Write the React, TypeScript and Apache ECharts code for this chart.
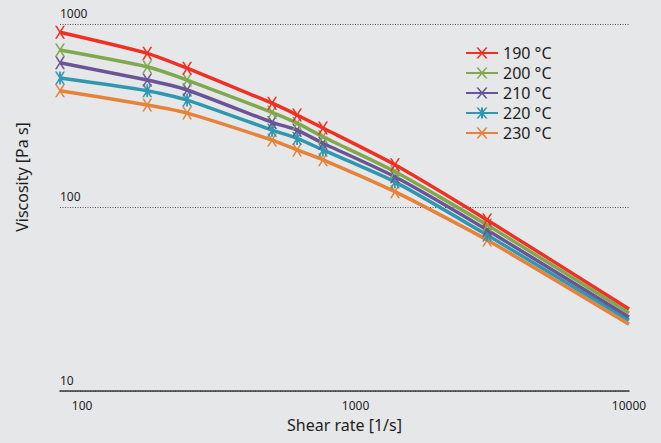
import React, { useEffect, useRef } from "react";
import * as echarts from "echarts";

const shearRates = [83, 173, 242, 495, 611, 760, 1393, 3028, 10000];
const seriesNames = ["190 °C", "200 °C", "210 °C", "220 °C", "230 °C"];
const visc190 = [901, 692, 574, 370, 319, 271, 171, 85.5, 28.0];
const visc200 = [722, 585, 495, 330, 288, 243, 157, 80.4, 26.6];
const visc210 = [615, 495, 437, 291, 264, 224, 147, 75.4, 25.3];
const visc220 = [508, 433, 385, 264, 238, 206, 138, 70.8, 24.3];
const visc230 = [433, 362, 327, 233, 206, 182, 122, 66.5, 23.1];
const colors = ["#ee3124", "#80a84e", "#6a5495", "#2f98b0", "#e6823a"];

const X_PATH =
  "path://M0,0 L1.8,0 L10,13 L8.2,13 Z M8.2,0 L10,0 L1.8,13 L0,13 Z";
const STAR_PATH =
  "path://M0,0 L1.8,0 L10,13 L8.2,13 Z M8.2,0 L10,0 L1.8,13 L0,13 Z M4.1,0 L5.9,0 L5.9,13 L4.1,13 Z";

const FONT = "'Noto Sans', 'Open Sans', sans-serif";
const TEXT = "#1e1e1e";

export default function App() {
  const ref = useRef<HTMLDivElement>(null);
  useEffect(() => {
    if (!ref.current) return;
    const chart = echarts.init(ref.current, undefined, { renderer: "svg" });
    const all = [visc190, visc200, visc210, visc220, visc230];
    const series = all.map((vals, i) => ({
      name: seriesNames[i],
      type: "line",
      smooth: 0.2,
      symbol: i === 3 ? STAR_PATH : X_PATH,
      symbolSize: [10, 13],
      lineStyle: { color: colors[i], width: 3.5 },
      itemStyle: { color: colors[i] },
      z: 10 - i,
      data: vals.map((v, j) =>
        j === vals.length - 1
          ? { value: [shearRates[j], v], symbol: "none" }
          : [shearRates[j], v]
      ),
    }));
    chart.setOption({
      animation: false,
      backgroundColor: "#e6e7e9",
      textStyle: { fontFamily: FONT },
      grid: { left: 60, right: 32, top: 24, bottom: 52 },
      legend: {
        orient: "vertical",
        left: 460,
        top: 40,
        itemWidth: 32,
        itemHeight: 14,
        itemGap: 4,
        textStyle: { fontSize: 16, color: TEXT, fontFamily: FONT },
        data: seriesNames,
      },
      xAxis: {
        type: "log",
        logBase: 10,
        min: 83,
        max: 10000,
        name: "Shear rate [1/s]",
        nameLocation: "middle",
        nameGap: 26,
        nameTextStyle: { fontSize: 16, color: TEXT, fontFamily: FONT },
        axisLine: { show: true, lineStyle: { color: "#3a3a3a", width: 1.5 } },
        axisTick: { show: false },
        splitLine: { show: false },
        axisLabel: {
          showMinLabel: false,
          margin: 8,
          fontSize: 12,
          color: TEXT,
          fontFamily: FONT,
          formatter: (v: number) => {
            const l = Math.log10(v);
            return Math.abs(l - Math.round(l)) < 1e-6 ? String(Math.round(v)) : "";
          },
        },
      },
      yAxis: {
        type: "log",
        logBase: 10,
        min: 10,
        max: 1000,
        axisLine: { show: false },
        axisTick: { show: false },
        splitLine: {
          show: true,
          lineStyle: { color: "#555", width: 1, type: [1, 1.5] },
        },
        axisLabel: {
          inside: true,
          margin: 0,
          align: "left",
          verticalAlign: "bottom",
          padding: [0, 0, 5, 0],
          fontSize: 12,
          color: TEXT,
          fontFamily: FONT,
          formatter: (v: number) => String(Math.round(v)),
        },
      },
      graphic: [
        {
          type: "text",
          x: 22,
          y: 177,
          rotation: Math.PI / 2,
          style: {
            text: "Viscosity [Pa s]",
            fontSize: 16,
            fill: TEXT,
            fontFamily: FONT,
            align: "center",
            verticalAlign: "middle",
          },
        },
      ],
      series,
    });
    return () => chart.dispose();
  }, []);
  return (
    <div
      ref={ref}
      style={{ position: "fixed", left: 0, top: 0, width: 661, height: 443 }}
    />
  );
}
